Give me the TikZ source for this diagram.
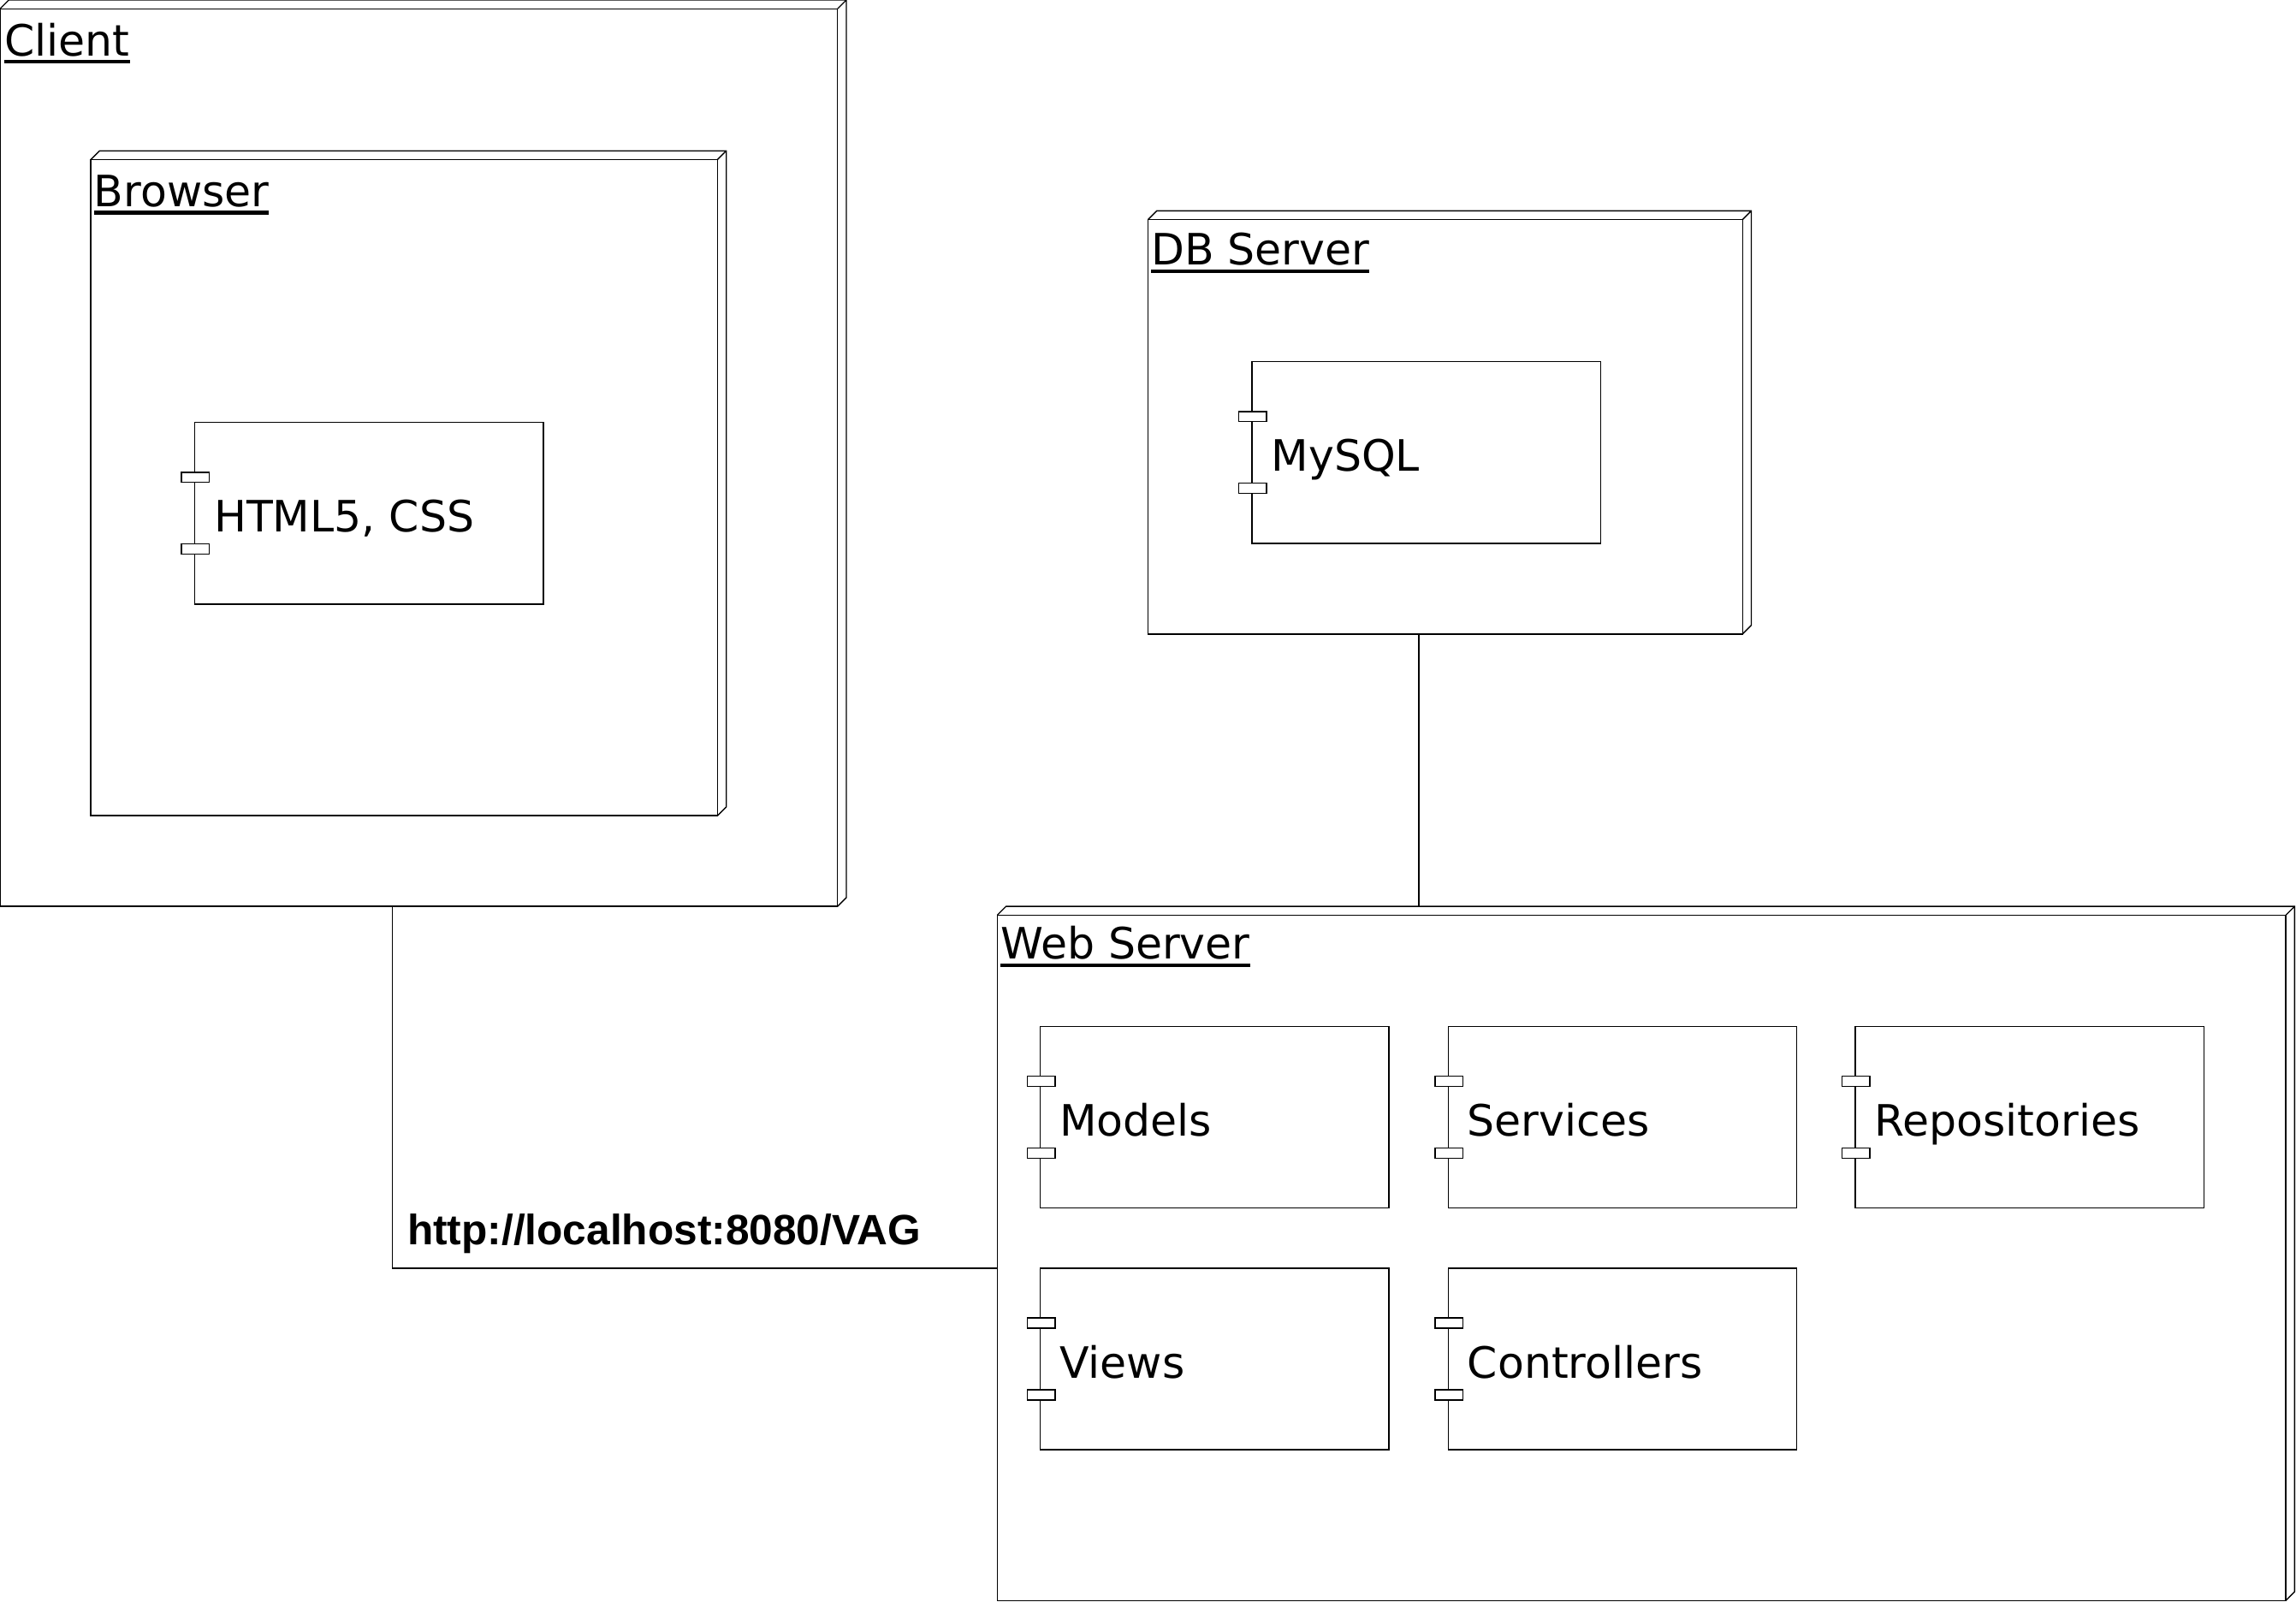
\documentclass[tikz,border=0pt]{standalone}
\usepackage{fontspec}
\setmainfont{DejaVu Sans}
\newfontfamily\urlfont{Liberation Sans}
\usetikzlibrary{calc}
\tikzstyle{device} = [draw, line width=0.8pt, outer sep=0pt, inner sep=0pt]
\tikzstyle{component} = [draw, line width=0.8pt, outer sep=0pt, inner sep=0pt, minimum width=238pt, minimum height=124pt]
\tikzstyle{comptab} = [draw, fill=white, line width=0.8pt]
\tikzstyle{devtitle} = [anchor=base west, inner sep=0pt, font=\titlesize]
\tikzstyle{compname} = [anchor=base west, inner sep=0pt, font=\titlesize]
\tikzstyle{link} = [draw, line width=0.8pt]
\newcommand{\titlesize}{\fontsize{29.5}{35}\selectfont}
\newcommand{\nodetitle}[1]{\setbox0=\hbox{#1}\leavevmode\rlap{\copy0}\rule[-5.5pt]{\wd0}{2.6pt}}
\newcommand{\nodedepth}[1]{\draw[link] (#1.north west) -- ++(6,-6) -| ([shift={(6,-6)}]#1.south east) -- (#1.south east) (#1.north east) -- ++(6,-6);}
\newcommand{\comptabs}[1]{\draw[comptab] ([shift={(-9,-28)}]#1.west) rectangle ++(19,7); \draw[comptab] ([shift={(-9,21)}]#1.west) rectangle ++(19,7);}

\begin{document}
\begin{tikzpicture}[x=1pt, y=-1pt]
\useasboundingbox (0,0) rectangle (1568,1094);

% client side
\node[device, minimum width=572pt, minimum height=613pt] (client) at (286,312.5) {};
\nodedepth{client}
\node[devtitle] (clienttitle) at ([shift={(3,32)}]client.north west) {\nodetitle{Client}};

\node[device, minimum width=428pt, minimum height=448pt] (browser) at (276,333) {};
\nodedepth{browser}
\node[devtitle] (browsertitle) at ([shift={(2,32)}]browser.north west) {\nodetitle{Browser}};

\node[component] (html) at (252,350.5) {};
\comptabs{html}
\node[compname] (htmlname) at ([shift={(13,13)}]html.west) {HTML5, CSS};

% database
\node[device, minimum width=406pt, minimum height=283pt] (db) at (987,291.5) {};
\nodedepth{db}
\node[devtitle] (dbtitle) at ([shift={(2,31)}]db.north west) {\nodetitle{DB Server}};

\node[component] (mysql) at (974,309) {};
\comptabs{mysql}
\node[compname] (mysqlname) at ([shift={(13,13)}]mysql.west) {MySQL};

% web server
\node[device, minimum width=880pt, minimum height=468pt] (web) at (1121,859) {};
\nodedepth{web}
\node[devtitle] (webtitle) at ([shift={(2,30)}]web.north west) {\nodetitle{Web Server}};

\node[component] (models) at (829.5,763) {};
\comptabs{models}
\node[compname] (modelsname) at ([shift={(13,13)}]models.west) {Models};

\node[component] (services) at (1108,763) {};
\comptabs{services}
\node[compname] (servicesname) at ([shift={(13,13)}]services.west) {Services};

\node[component] (repos) at (1386,763) {};
\comptabs{repos}
\node[compname] (reposname) at ([shift={(13,13)}]repos.west) {Repositories};

\node[component] (views) at (829.5,928) {};
\comptabs{views}
\node[compname] (viewsname) at ([shift={(13,13)}]views.west) {Views};

\node[component] (controllers) at (1108,928) {};
\comptabs{controllers}
\node[compname] (controllersname) at ([shift={(13,13)}]controllers.west) {Controllers};

% connections
\coordinate (bend) at (268,866);
\path[link] (client.south -| bend) -- (bend) -- (bend -| web.west);
\node[anchor=base west, inner sep=0pt, font=\urlfont\bfseries\fontsize{29}{35}\selectfont] (url) at (278,850) {http://localhost:8080/VAG};
\coordinate (dbdrop) at ([xshift=-18pt]db.south);
\path[link] (dbdrop) -- ([shift={(0,-6)}]web.north -| dbdrop);
\end{tikzpicture}
\end{document}
